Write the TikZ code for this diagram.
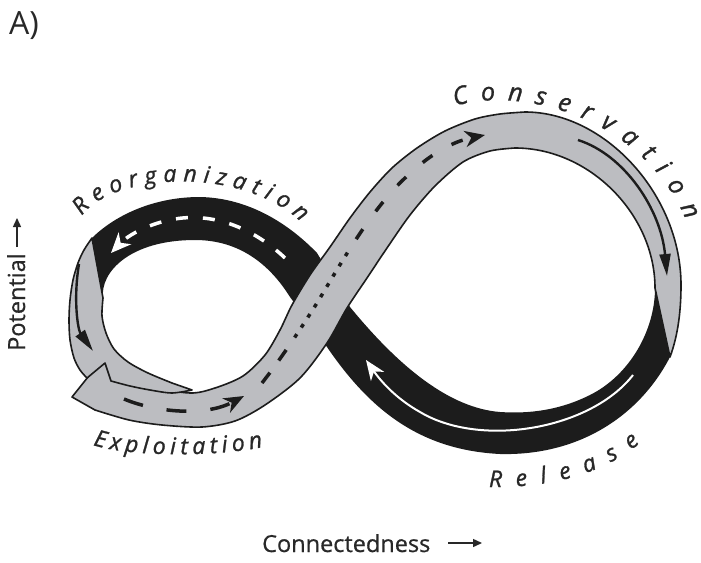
\documentclass[tikz,border=0pt]{standalone}
\usepackage{fontspec}
\setmainfont{Open Sans}
\usetikzlibrary{arrows.meta,decorations.text}
\definecolor{bandgray}{RGB}{188,189,193}
\definecolor{ink}{RGB}{28,28,28}
\definecolor{lbl}{RGB}{40,40,40}
\newcommand{\lblfont}{\fontsize{23pt}{27pt}\selectfont\itshape\addfontfeatures{FakeBold=1.2}\color{lbl}}
\newcommand{\lblfontC}{\fontsize{25pt}{29pt}\selectfont\itshape\addfontfeatures{FakeBold=1.2}\color{lbl}}
\begin{document}
\begin{tikzpicture}[x=1pt,y=-1pt,
  band/.style={fill=bandgray, draw=ink, line width=1.6pt, line join=round},
  blackband/.style={fill=ink},
  flowblack/.style={draw=ink, line width=2.4pt, -{Triangle[length=22pt,width=11pt]}},
  flowwhite/.style={draw=white, line width=2pt, -{Stealth[length=20pt,width=16pt,inset=6pt]}},
  dashwhite/.style={draw=white, line width=3.5pt, dash pattern=on 12pt off 15pt, -{Stealth[length=20pt,width=17pt,inset=6pt]}},
  dashblack/.style={draw=ink, line width=3.5pt, -{Stealth[length=20pt,width=16pt,inset=6pt]}},
  axisarrow/.style={draw=lbl, line width=1.4pt, -{Triangle[length=9pt,width=8pt]}},
  axislabel/.style={font=\fontsize{23.5pt}{28pt}\selectfont\addfontfeatures{FakeBold=0.6}, text=lbl, inner sep=0pt}
]
\useasboundingbox (0,0) rectangle (701,562);
\fill[white] (0,0) rectangle (701,562);

% black band: release + reorganization
\fill[blackband] (655,288) .. controls (655,330) and (630,375) .. (590,395)
  .. controls (560,410) and (530,414) .. (500,412)
  .. controls (450,408) and (400,368) .. (350,307)
  -- (317,253)
  .. controls (290,225) and (250,198) .. (200,197)
  .. controls (150,197) and (112,218) .. (92,238)
  -- (103,298)
  .. controls (100,272) and (130,240) .. (195,240)
  .. controls (240,240) and (270,265) .. (290,297)
  -- (327,347)
  .. controls (370,410) and (420,450) .. (500,454)
  .. controls (580,456) and (640,415) .. (670,357)
  -- cycle;

% grey band: exploitation + conservation
\filldraw[band] (72,397) -- (88,377)
  -- plot[smooth] coordinates {(102,362) (125,370) (150,386) (190,393) (215,388) (243,376) (265,355) (280,330) (292,305) (310,275) (330,247) (350,218) (370,192) (392,168) (417,148) (445,131) (475,119) (500,114) (525,112)}
  .. controls (605,112) and (681,195) .. (681,285)
  .. controls (681,315) and (677,338) .. (670,357)
  -- (655,288)
  .. controls (655,215) and (590,148) .. (515,148)
  -- plot[smooth] coordinates {(515,148) (490,151) (463,162) (435,186) (410,215) (387,248) (367,278) (347,308) (327,343) (300,378) (265,405) (235,421) (202,427) (162,425) (129,420) (95,410)}
  -- cycle;

% grey band: left side (reorganization to exploitation)
\filldraw[band] plot[smooth] coordinates {(92,238) (84,250) (78,263) (73,280) (70,300) (69,320) (70,340) (74,358) (80,370) (87,378)}
  -- (105,363) -- (111,381)
  -- plot[smooth] coordinates {(111,381) (130,386) (150,390) (172,393) (192,390)}
  -- plot[smooth] coordinates {(172,383) (148,373) (128,362) (114,349) (106,333) (102,316) (103,298)}
  -- cycle;

% flow arrows
\coordinate (cA) at (578,140);
\coordinate (cB) at (667,276);
\draw[flowblack] (cA) .. controls (625,155) and (661,210) .. (cB);
\coordinate (lA) at (79,264);
\coordinate (lB) at (93,351);
\draw[flowblack] (lA) .. controls (73,300) and (78,330) .. (lB);
\coordinate (rA) at (633,375);
\coordinate (rM) at (420,412);
\coordinate (rB) at (366,360);
\draw[flowwhite] (rA) .. controls (590,430) and (480,448) .. (rM) .. controls (395,398) and (380,380) .. (rB);
\coordinate (oA) at (285,258);
\coordinate (oM) at (175,219);
\coordinate (oB) at (111,253);
\draw[dashwhite] (oA) .. controls (250,225) and (210,213) .. (oM) .. controls (150,223) and (128,235) .. (oB);
\coordinate (eA) at (124,399);
\coordinate (eB) at (244,396);
\draw[dashblack, dash pattern=on 20pt off 24pt] (eA) .. controls (155,412) and (205,417) .. (eB);
\coordinate (kA) at (262,383);
\coordinate (kM1) at (317,303);
\coordinate (kM2) at (397,186);
\coordinate (kB) at (485,135);
\draw[dashblack, dash pattern=on 13pt off 15pt on 13pt off 15pt on 4pt off 8pt on 4pt off 8pt on 4pt off 8pt on 4pt off 8pt on 4pt off 8pt on 4pt off 8pt on 4pt off 8pt on 4pt off 8pt on 4pt off 16pt on 12pt off 22pt on 12pt off 22pt on 12pt off 22pt on 12pt off 22pt on 12pt off 22pt]
  (kA) .. controls (280,360) and (300,330) .. (kM1) .. controls (340,265) and (365,220) .. (kM2) .. controls (425,157) and (450,142) .. (kB);

% curved phase labels
\path[decorate, decoration={text along path, text align={fit to path}, text={|\lblfont|Reorganization}}]
  (82,216) .. controls (110,174) and (240,164) .. (301,222);
\path[decorate, decoration={text along path, text align={fit to path}, text={|\lblfont|Exploitation}}]
  (93,445) .. controls (130,457) and (215,457) .. (263,447);
\path[decorate, decoration={text along path, text align={fit to path}, text={|\lblfontC|Conservation}}]
  (455,106) .. controls (520,86) and (642,116) .. (686,220);
\path[decorate, decoration={text along path, text align={fit to path}, text={|\lblfont|Release}}]
  (489,487) .. controls (545,488) and (600,476) .. (640,443);

% panel label and axes
\node[anchor=base west, font=\fontsize{32pt}{38pt}\selectfont, text=lbl, inner sep=0pt] (panel) at (9,34) {A)};
\node[axislabel, anchor=base west] (xlab) at (262,552) {Connectedness};
\coordinate (xa1) at (448,543);
\coordinate (xa2) at (482,543);
\draw[axisarrow] (xa1) -- (xa2);
\node[axislabel, rotate=90, anchor=base west] (ylab) at (25,351) {Potential};
\coordinate (ya1) at (17,247);
\coordinate (ya2) at (17,218);
\draw[axisarrow] (ya1) -- (ya2);
\end{tikzpicture}
\end{document}
